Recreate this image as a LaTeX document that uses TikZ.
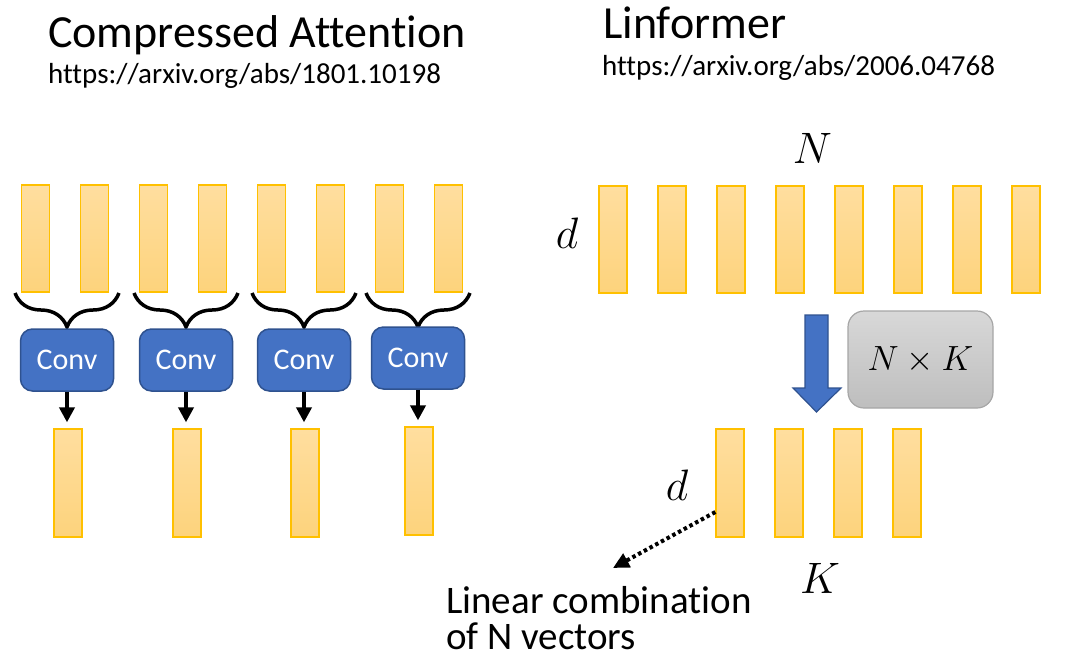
\RequirePackage{fix-cm}
\documentclass[tikz,border=0pt]{standalone}
\usepackage{fontspec}
\setmainfont{Carlito}[Ligatures=NoCommon]
\usetikzlibrary{positioning,calc,arrows.meta,decorations.pathreplacing}
\definecolor{bartop}{HTML}{FFDE9F}
\definecolor{barbot}{HTML}{FDD37C}
\definecolor{barline}{HTML}{FFC000}
\definecolor{convfill}{HTML}{4472C4}
\definecolor{convline}{HTML}{2F528F}
\definecolor{projtop}{HTML}{D8D8D8}
\definecolor{projbot}{HTML}{BEBEBE}
\definecolor{projline}{HTML}{A6A6A6}
\begin{document}
\begin{tikzpicture}[x=1pt,y=-1pt,
		vecbar/.style={draw=barline,line width=1.3pt,top color=bartop,bottom color=barbot,
			minimum width=28pt,minimum height=107pt,inner sep=0pt},
		convbox/.style={draw=convline,fill=convfill,line width=1.5pt,rounded corners=12pt,
			minimum width=93pt,minimum height=62pt,text=white,font=\fontsize{30}{34}\selectfont},
		projbox/.style={draw=projline,line width=1.2pt,rounded corners=16pt,top color=projtop,bottom color=projbot,
			minimum width=145pt,minimum height=97pt,font=\fontsize{35}{40}\selectfont},
		cbrace/.style={decorate,decoration={brace,mirror,amplitude=34pt},line width=3.5pt},
		down/.style={-{Triangle[width=15pt,length=15pt]},line width=4.5pt,shorten >=6pt},
		dotarrow/.style={-{Triangle[width=15pt,length=16pt]},line width=4pt,dash pattern=on 3.5pt off 3pt},
		title/.style={anchor=base west,inner sep=0pt,font=\fontsize{46}{52}\selectfont},
		link/.style={anchor=base west,inner sep=0pt,font=\fontsize{29}{34}\selectfont},
		mathlbl/.style={anchor=base,inner sep=0pt,font=\fontsize{44}{50}\selectfont},
	]
	\useasboundingbox (0,0) rectangle (1065,657);
	% titles
	\node[title] (t-ca) at (48,47) {Compressed Attention};
	\node[link] (u-ca) at (48,83) {https://arxiv.org/abs/1801.10198};
	\node[title] (t-lf) at (603,38) {Linformer};
	\node[link] (u-lf) at (602,75) {https://arxiv.org/abs/2006.04768};
	% compressed attention
	\foreach \i in {1,...,8}
		\node[vecbar] (t\i) at ({35.5+59*(\i-1)},238.5) {};
	\foreach \g/\cx/\dy in {1/67/0,2/186/0,3/304/0,4/418/-2}{
		\draw[cbrace] (\cx-52,293) -- (\cx+52,293);
		\node[convbox] (c\g) at (\cx,360+\dy) {Conv};
		\node[vecbar,minimum height=108pt] (o\g) at (\cx+1,483+\dy) {};
		\draw[down] (c\g.south) -- (c\g.south |- o\g.north);
	}
	% linformer
	\foreach \i in {1,...,8}
		\node[vecbar] (n\i) at ({613+59*(\i-1)},239.5) {};
	\foreach \i in {1,...,4}
		\node[vecbar,minimum height=108pt] (k\i) at ({730+59*(\i-1)},483) {};
	\node[mathlbl] (lab-N) at (812.5,163) {$N$};
	\node[mathlbl] (lab-d1) at (567,248) {$d$};
	\node[mathlbl] (lab-d2) at (677,500) {$d$};
	\node[mathlbl] (lab-K) at (820,593) {$K$};
	\fill[convfill,draw=convline,line width=1.2pt]
		(805,315) -- (828,315) -- (828,388) -- (841,388) -- (816.5,412) -- (793,388) -- (805,388) -- cycle;
	\node[projbox] (proj) at (920.5,359.5) {$N\times K$};
	\coordinate (lc) at (613,568);
	\draw[dotarrow] ([yshift=-29pt]k1.west) -- (lc);
	\node[anchor=base west,inner sep=0pt,font=\fontsize{39}{44}\selectfont] (lin1) at (446,613) {Linear combination};
	\node[anchor=base west,inner sep=0pt,font=\fontsize{39}{44}\selectfont] (lin2) at (446,649) {of N vectors};
\end{tikzpicture}
\end{document}
